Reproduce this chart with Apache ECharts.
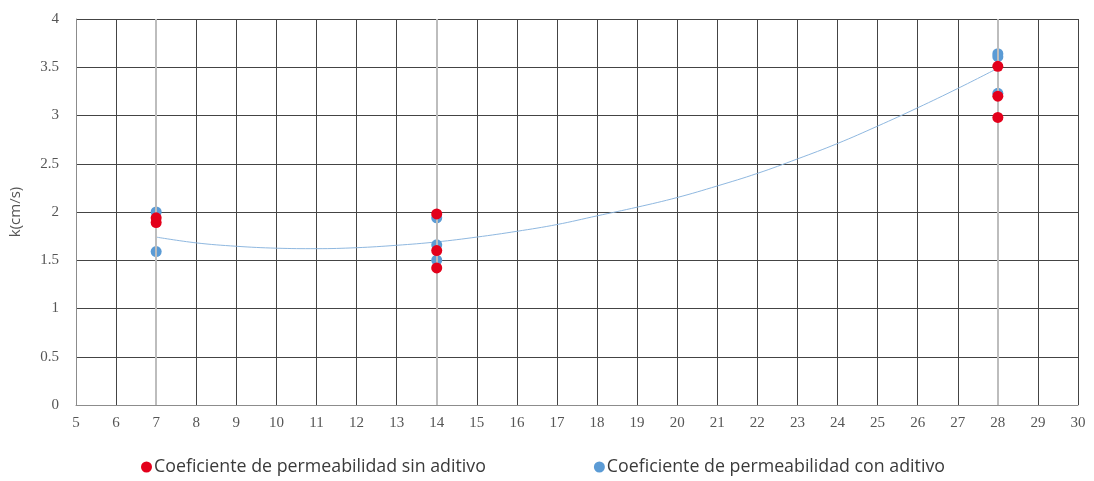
<!DOCTYPE html>
<html>
<head>
<meta charset="utf-8">
<style>
  html, body { margin: 0; padding: 0; background: #fff; }
  #chart { width: 1094px; height: 481px; }
</style>
<script src="https://cdn.jsdelivr.net/npm/echarts@6/dist/echarts.min.js"></script>
</head>
<body>
<div id="chart"></div>
<script>
// Curing age (days) and measured permeability coefficient k (cm/s)
const sinAditivoX = [7, 7, 14, 14, 14, 28, 28, 28];
const sinAditivoY = [1.94, 1.89, 1.98, 1.60, 1.42, 3.51, 3.20, 2.98];
const conAditivoX = [7, 7, 14, 14, 14, 28, 28, 28];
const conAditivoY = [2.00, 1.59, 1.94, 1.66, 1.50, 3.64, 3.61, 3.23];

// Trend curve for the series with additive
const trendX = [7, 8, 9, 10, 11, 12, 13, 14, 15, 16, 17, 18, 19, 20, 21, 22, 23, 24, 25, 26, 27, 28];
const trendY = [1.74, 1.68, 1.645, 1.625, 1.62, 1.63, 1.655, 1.69, 1.74, 1.80, 1.87, 1.96, 2.05, 2.15, 2.27, 2.40, 2.55, 2.71, 2.89, 3.08, 3.28, 3.49];

// Sample ages highlighted with a lighter vertical guide
const sampleAges = [7, 14, 28];

const seriesNames = ['Coeficiente de permeabilidad sin aditivo', 'Coeficiente de permeabilidad con aditivo'];
const yAxisName = 'k(cm/s)';

const zip = (xs, ys) => xs.map((x, i) => [x, ys[i]]);

const chart = echarts.init(document.getElementById('chart'));
chart.setOption({
  animation: false,
  backgroundColor: '#ffffff',
  grid: { left: 75, right: 16, top: 19, bottom: 76 },
  xAxis: {
    type: 'value', min: 5, max: 30, interval: 1,
    axisLine: { show: true, lineStyle: { color: '#8c8c8c', width: 1 } },
    axisTick: { show: false },
    axisLabel: { color: '#555', fontFamily: 'Liberation Serif', fontSize: 15, margin: 11 },
    splitLine: { show: true, lineStyle: { color: '#444', width: 1 } }
  },
  yAxis: {
    type: 'value', min: 0, max: 4, interval: 0.5,
    name: yAxisName, nameLocation: 'middle', nameGap: 53, nameRotate: 90,
    nameTextStyle: { color: '#555', fontFamily: 'Open Sans', fontSize: 15 },
    axisLine: { show: true, lineStyle: { color: '#8c8c8c', width: 1 } },
    axisTick: { show: false },
    axisLabel: { color: '#555', fontFamily: 'Liberation Serif', fontSize: 15, margin: 17 },
    splitLine: { show: true, lineStyle: { color: '#444', width: 1 } }
  },
  legend: {
    data: seriesNames,
    bottom: 0, left: 136,
    itemGap: 108, itemWidth: 11, itemHeight: 11,
    icon: 'circle',
    textStyle: { color: '#3a3a3a', fontFamily: 'Open Sans', fontSize: 17.8, padding: [0, 0, 0, -3] }
  },
  series: [
    {
      name: 'guides', type: 'line', data: [], silent: true,
      markLine: {
        silent: true, symbol: 'none', label: { show: false },
        lineStyle: { color: '#bdbdbd', width: 2, type: 'solid' },
        data: sampleAges.map(a => ({ xAxis: a }))
      }
    },
    {
      name: 'trend', type: 'line', data: zip(trendX, trendY),
      smooth: 0.4, showSymbol: false, silent: true,
      lineStyle: { color: '#8fb8e0', width: 1 }, z: 3
    },
    {
      name: seriesNames[1], type: 'scatter', data: zip(conAditivoX, conAditivoY),
      symbolSize: 11, itemStyle: { color: '#5b9bd5', opacity: 1 }, z: 4
    },
    {
      name: seriesNames[0], type: 'scatter', data: zip(sinAditivoX, sinAditivoY),
      symbolSize: 11, itemStyle: { color: '#e3001b', opacity: 1 }, z: 5
    }
  ]
});
</script>
</body>
</html>
